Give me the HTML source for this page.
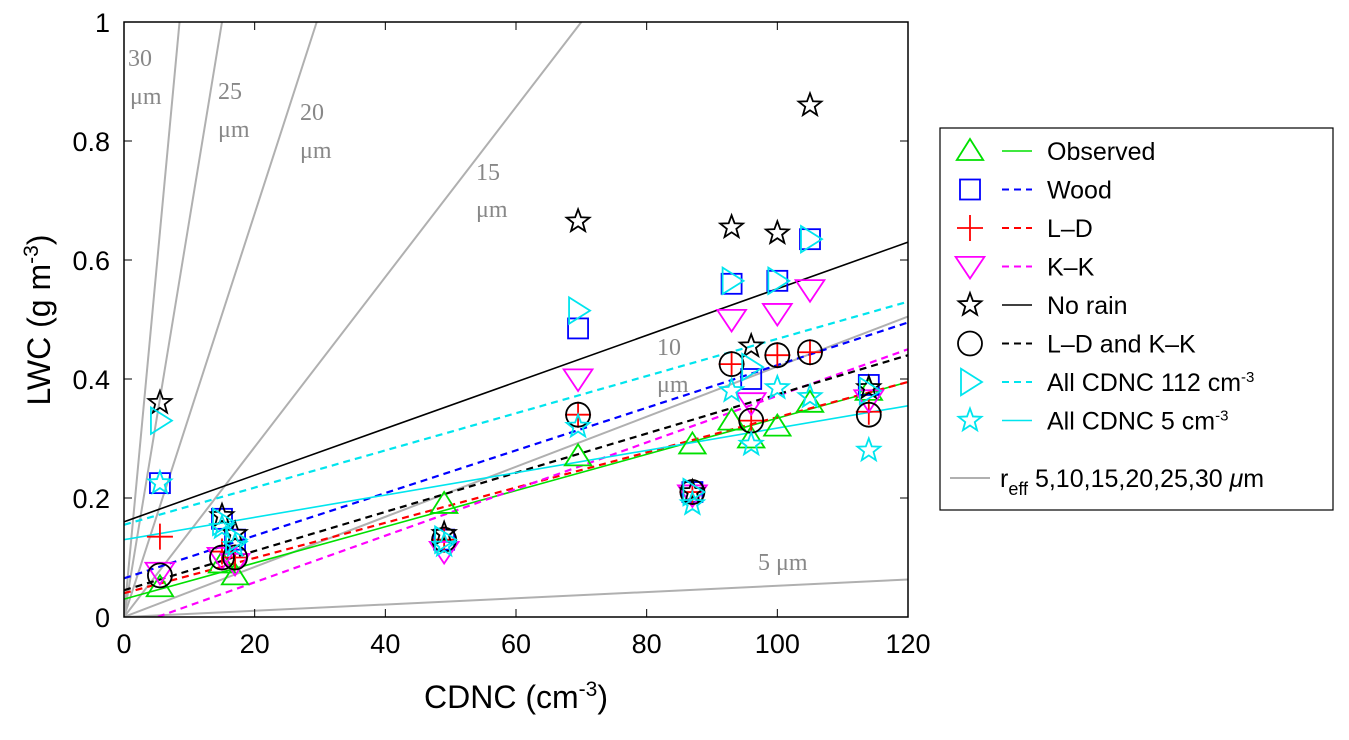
<!DOCTYPE html>
<html><head><meta charset="utf-8"><style>
body{margin:0;background:#fff;}
svg text{font-family:"Liberation Sans",sans-serif;}
</style></head><body>
<svg id="c" width="1349" height="735" xmlns="http://www.w3.org/2000/svg"></svg>
<script>
const xs=[5.5,15,17,49,69.5,87,93,96,100,105,114];
const observed=[0.05,0.09,0.07,0.19,0.27,0.29,0.33,0.30,0.32,0.36,0.38];
const wood=[0.225,0.165,0.13,0.13,0.485,0.21,0.56,0.40,0.565,0.635,0.39];
const ld=[0.135,0.11,0.10,0.13,0.34,0.21,0.425,0.33,0.44,0.445,0.345];
const kk=[0.075,0.10,0.09,0.11,0.40,0.205,0.50,0.36,0.51,0.55,0.365];
const norain=[0.36,0.17,0.14,0.14,0.665,0.21,0.655,0.455,0.645,0.86,0.385];
const ldkk=[0.07,0.10,0.10,0.13,0.34,0.21,0.425,0.33,0.44,0.445,0.34];
const all112=[0.33,0.16,0.13,0.13,0.515,0.21,0.565,0.42,0.565,0.635,0.38];
const all5=[0.225,0.15,0.12,0.12,0.32,0.19,0.38,0.29,0.385,0.37,0.28];
const fitIntercepts=[0.03,0.065,0.04,-0.02,0.16,0.045,0.155,0.13];
const fitEnds=[0.395,0.495,0.395,0.45,0.63,0.44,0.53,0.355];
const reffLabels=["5","10","15","20","25","30"];
const reffEndN=[120,120,70,29.5,15,8.5];
const reffEndLWC=[0.063,0.505,1,1,1,1];
const xTicks=[0,20,40,60,80,100,120];
const yTicks=[0,0.2,0.4,0.6,0.8,1];
const yTickLabels=["0","0.2","0.4","0.6","0.8","1"];

const X0=124,X1=908,Y0=617,Y1=22;
const sx=v=>X0+(v/120)*(X1-X0), sy=v=>Y0-(v/1)*(Y0-Y1);
const svg=document.getElementById('c'),NS="http://www.w3.org/2000/svg";
function mk(t,a,p){const e=document.createElementNS(NS,t);for(const k in a)e.setAttribute(k,a[k]);(p||svg).appendChild(e);return e;}
const defs=mk('defs',{});const cp=mk('clipPath',{id:'clip'},defs);mk('rect',{x:X0,y:Y1,width:X1-X0,height:Y0-Y1},cp);
const plot=mk('g',{'clip-path':'url(#clip)'});


reffLabels.forEach((r,i)=>{const l=mk('line',{x1:sx(0),y1:sy(0),x2:sx(reffEndN[i]),y2:sy(reffEndLWC[i]),stroke:'#b0b0b0','stroke-width':2},plot);

});
const rl=[[758,570,"5 μm"],[128,66,"30"],[130,104,"μm"],[218,99,"25"],[218,137,"μm"],[300,120,"20"],[300,158,"μm"],[476,180,"15"],[476,217,"μm"],[657,355,"10"],[657,392,"μm"]];
rl.forEach(a=>{const t=mk('text',{x:a[0],y:a[1],fill:'#888','font-size':24,style:'font-family:"Liberation Serif",serif'});t.textContent=a[2];

});
const fitStyle=[['#00e000',''],['#0000ff','7,5'],['#ff0000','7,5'],['#ff00ff','7,5'],['#000',''],['#000','7,5'],['#00e5ee','7,5'],['#00e5ee','']];
fitStyle.forEach((s,i)=>{const l=mk('line',{x1:sx(0),y1:sy(fitIntercepts[i]),x2:sx(120),y2:sy(fitEnds[i]),stroke:s[0],'stroke-width':s[1]?2.2:1.6,'stroke-dasharray':s[1]},plot);

});
function marker(type,cx,cy,col,g){const r=12;let e;
 if(type=='tri')e=mk('polygon',{points:`${cx},${cy-r} ${cx+r*1.1},${cy+r*0.75} ${cx-r*1.1},${cy+r*0.75}`},g);
 else if(type=='sq')e=mk('rect',{x:cx-10,y:cy-10,width:20,height:20},g);
 else if(type=='plus')e=mk('path',{d:`M${cx-13},${cy}H${cx+13}M${cx},${cy-13}V${cy+13}`},g);
 else if(type=='dtri')e=mk('polygon',{points:`${cx},${cy+r} ${cx+r*1.2},${cy-r*0.8} ${cx-r*1.2},${cy-r*0.8}`},g);
 else if(type=='circ')e=mk('circle',{cx:cx,cy:cy,r:12},g);
 else if(type=='rtri')e=mk('polygon',{points:`${cx+r},${cy} ${cx-r*0.75},${cy-r*1.1} ${cx-r*0.75},${cy+r*1.1}`},g);
 else {let p='';for(let k=0;k<10;k++){const a=-Math.PI/2+k*Math.PI/5,rr=k%2?5:12;p+=(cx+rr*Math.cos(a))+','+(cy+rr*Math.sin(a))+' ';}e=mk('polygon',{points:p},g);}
 e.setAttribute('fill','none');e.setAttribute('stroke',col);e.setAttribute('stroke-width',1.8);return e;}
const series=[[observed,'tri','#00e000'],[wood,'sq','#0000ff'],[ld,'plus','#ff0000'],[kk,'dtri','#ff00ff'],[norain,'star','#000'],[ldkk,'circ','#000'],[all112,'rtri','#00e5ee'],[all5,'star','#00e5ee']];
series.forEach((s,i)=>{const g=mk('g',{});


s[0].forEach((v,j)=>{const m=marker(s[1],sx(xs[j]),sy(v),s[2],g);

});});
const ax=mk('rect',{x:X0,y:Y1,width:X1-X0,height:Y0-Y1,fill:'none',stroke:'#000','stroke-width':1.5});


xTicks.forEach(v=>{mk('line',{x1:sx(v),x2:sx(v),y1:Y0,y2:Y0-8,stroke:'#000'});mk('line',{x1:sx(v),x2:sx(v),y1:Y1,y2:Y1+8,stroke:'#000'});
const t=mk('text',{x:sx(v),y:653,'text-anchor':'middle','font-size':27});t.textContent=v;

});
yTicks.forEach((v,i)=>{mk('line',{x1:X0,x2:X0+8,y1:sy(v),y2:sy(v),stroke:'#000'});mk('line',{x1:X1,x2:X1-8,y1:sy(v),y2:sy(v),stroke:'#000'});
const t=mk('text',{x:110,y:sy(v)+10,'text-anchor':'end','font-size':27});t.textContent=yTickLabels[i];

});
let t=mk('text',{x:516,y:708,'text-anchor':'middle','font-size':32});t.innerHTML='CDNC (cm<tspan dy="-12" font-size="21">-3</tspan><tspan dy="12">)</tspan>';


t=mk('text',{x:0,y:0,'text-anchor':'middle','font-size':32,transform:'translate(50,320) rotate(-90)'});t.innerHTML='LWC (g m<tspan dy="-12" font-size="21">-3</tspan><tspan dy="12">)</tspan>';


const lg=mk('g',{});


mk('rect',{x:940,y:128,width:393,height:382,fill:'#fff',stroke:'#000','stroke-width':1.2},lg);
const names=['Observed','Wood','L\u2013D','K\u2013K','No  rain','L\u2013D and K\u2013K','All CDNC 112 cm<tspan dy="-9" font-size="15">-3</tspan>','All CDNC 5 cm<tspan dy="-9" font-size="15">-3</tspan>'];
names.forEach((n,i)=>{const y=151+i*38.5;const e=mk('g',{},lg);


marker(series[i][1],970,y,series[i][2],e);
mk('line',{x1:1002,x2:1032,y1:y,y2:y,stroke:fitStyle[i][0],'stroke-width':fitStyle[i][1]?2:1.6,'stroke-dasharray':fitStyle[i][1]?'7,5':''},e);
const tt=mk('text',{x:1047,y:y+9,'font-size':25},e);tt.innerHTML=n;});
const y8=478;
mk('line',{x1:950,x2:990,y1:y8,y2:y8,stroke:'#b0b0b0','stroke-width':2},lg);
t=mk('text',{x:1000,y:y8+9,'font-size':25},lg);t.innerHTML='r<tspan dy="8" font-size="18">eff</tspan><tspan dy="-8"> 5,10,15,20,25,30 </tspan><tspan font-style="italic">μ</tspan>m';
</script>
</body></html>
